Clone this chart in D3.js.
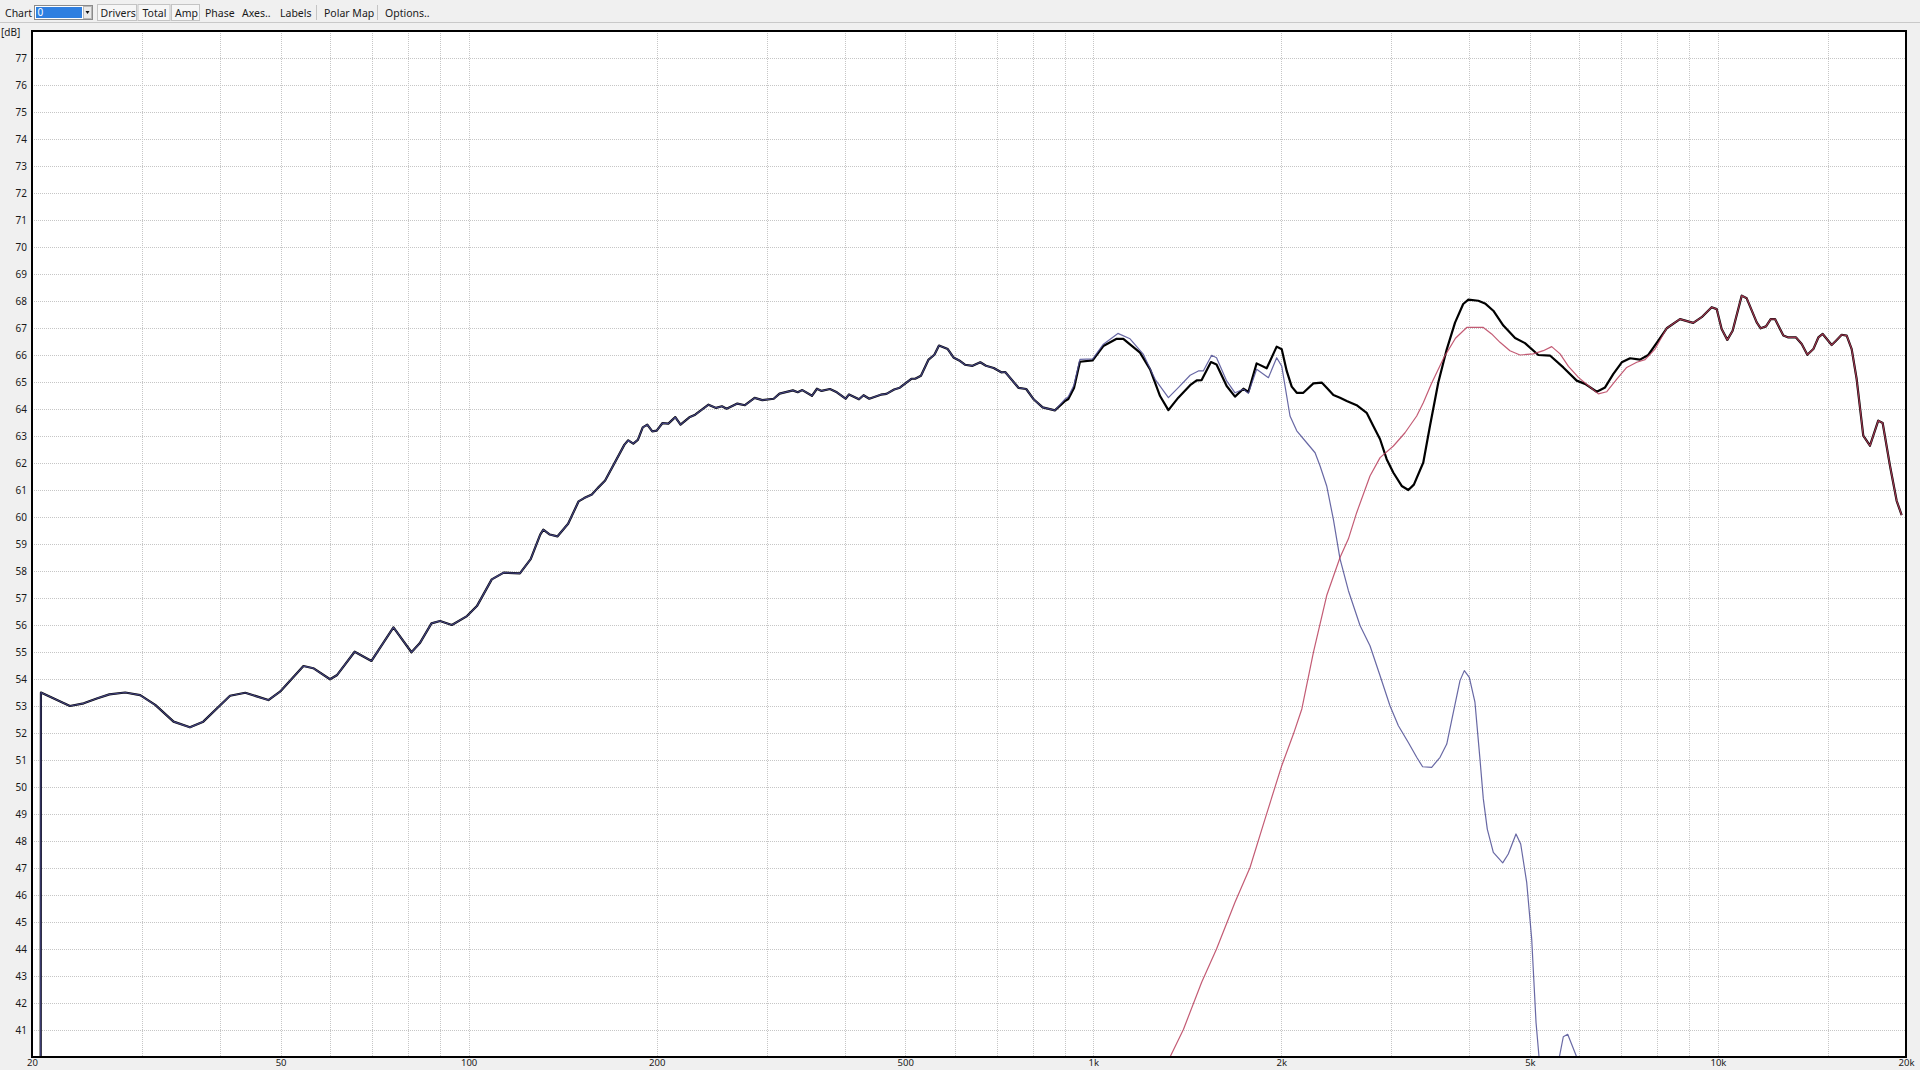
<!DOCTYPE html>
<html>
<head>
<meta charset="utf-8">
<script src="https://cdn.jsdelivr.net/npm/d3@7"></script>
<style>
  html, body { margin: 0; padding: 0; background: #f0f0f0; overflow: hidden; }
  svg { display: block; }
  text { font-family: "Noto Sans", "Liberation Sans", sans-serif; fill: #1a1a1a; }
</style>
</head>
<body>
<svg id="chart" width="1920" height="1070"></svg>
<script>
// ---------------- DATA ----------------
// Axis ticks
const xTickValues = [20, 50, 100, 200, 500, 1000, 2000, 5000, 10000, 20000];
const xTickLabels = ["20", "50", "100", "200", "500", "1k", "2k", "5k", "10k", "20k"];
const xGridValues = [30, 40, 50, 60, 70, 80, 90, 100, 200, 300, 400, 500, 600, 700, 800, 900,
                     1000, 2000, 3000, 4000, 5000, 6000, 7000, 8000, 9000, 10000, 15000];
const yTickValues = [41, 42, 43, 44, 45, 46, 47, 48, 49, 50, 51, 52, 53, 54, 55, 56, 57, 58, 59,
                     60, 61, 62, 63, 64, 65, 66, 67, 68, 69, 70, 71, 72, 73, 74, 75, 76, 77];
const yUnitLabel = "[dB]";
const toolbarItems = ["Drivers", "Total", "Amp", "Phase", "Axes..", "Labels", "Polar Map", "Options.."];

// Shared low-frequency response (woofer and total coincide below ~870 Hz)
const lowFreq = [20.62, 20.67, 23.0, 24.2, 25.4, 26.6, 28.2, 29.8, 31.5, 33.7, 35.8, 37.6, 41.5, 43.9,
  47.8, 49.9, 54.4, 56.4, 60.0, 61.6, 65.7, 69.9, 75.8, 81.0, 83.5, 87.2, 90.0, 94.0, 99.4, 103.1,
  108.9, 113.8, 120.8, 125.7, 130.2, 131.7, 134.9, 138.7, 144.3, 150.0, 153.1, 157.5, 160.9, 165.4,
  177.6, 180.1, 183.5, 186.6, 190.0, 193.2, 196.8, 200.0, 204.4, 208.8, 214.2, 218.4, 225.6, 230.5,
  242.1, 249.0, 254.4, 258.8, 269.3, 276.9, 287.0, 295.2, 307.9, 314.6, 330.4, 336.4, 342.2, 354.5,
  361.1, 367.3, 378.8, 388.6, 401.3, 406.4, 421.6, 428.8, 437.9, 456.9, 466.6, 479.9, 490.1, 511.4,
  518.6, 529.8, 544.9, 556.7, 566.2, 584.8, 597.3, 610.0, 623.1, 640.8, 659.3, 673.3, 692.7, 712.4,
  722.7, 759.4, 780.9, 803.3, 829.8, 868.0];
const lowDb = [20.0, 53.5, 53.0, 53.1, 53.28, 53.43, 53.5, 53.4, 53.04, 52.42, 52.21, 52.42, 53.38, 53.49,
  53.22, 53.53, 54.48, 54.4, 53.99, 54.15, 55.01, 54.67, 55.91, 54.99, 55.32, 56.06, 56.15, 56.0, 56.33, 56.7,
  57.69, 57.94, 57.91, 58.44, 59.35, 59.53, 59.35, 59.28, 59.75, 60.58, 60.70, 60.83, 61.07, 61.35,
  62.68, 62.84, 62.72, 62.86, 63.32, 63.42, 63.17, 63.2, 63.48, 63.46, 63.70, 63.42, 63.69, 63.79,
  64.16, 64.04, 64.10, 64.01, 64.20, 64.14, 64.41, 64.33, 64.38, 64.57, 64.69, 64.62, 64.70, 64.49,
  64.75, 64.67, 64.74, 64.62, 64.38, 64.54, 64.36, 64.51, 64.38, 64.53, 64.56, 64.72, 64.79, 65.12,
  65.12, 65.23, 65.83, 66.01, 66.35, 66.22, 65.91, 65.80, 65.64, 65.60, 65.73, 65.60, 65.52, 65.36,
  65.37, 64.78, 64.74, 64.35, 64.06, 63.95];

// Total (black) above 870 Hz
const totalFreq = [899.4, 912.1, 931.4, 952, 997.7, 1037.6, 1090, 1117, 1188, 1233, 1279, 1319, 1368,
  1429, 1464, 1491, 1543, 1575, 1635, 1686, 1739, 1771, 1826, 1895, 1966, 2003, 2040, 2078, 2117, 2169,
  2251, 2321, 2364, 2423, 2483, 2545, 2640, 2739, 2807, 2878, 2949, 3023, 3117, 3194, 3260, 3375, 3459,
  3567, 3680, 3794, 3910, 3985, 4134, 4237, 4369, 4534, 4734, 4910, 5157, 5384, 5655, 5941, 6127, 6397,
  6596, 6801, 7015, 7233, 7502, 7735, 8026, 8279, 8694, 9130, 9418, 9771, 9953, 10137, 10351, 10556,
  10916, 11118, 11535, 11706, 11938, 12146, 12341, 12725, 12962, 13335, 13617, 13903, 14214, 14478,
  14713, 15208, 15451, 15779, 16072, 16371, 16674, 17085, 17511, 18055, 18352, 18853, 19323, 19682];
const totalDb = [64.28, 64.37, 64.78, 65.75, 65.80, 66.33, 66.60, 66.60, 66.09, 65.47, 64.48, 63.96, 64.42,
  64.88, 65.06, 65.07, 65.74, 65.65, 64.85, 64.46, 64.75, 64.63, 65.69, 65.51, 66.31, 66.21, 65.41, 64.83, 64.60, 64.60,
  64.95, 64.98, 64.79, 64.52, 64.42, 64.30, 64.14, 63.86, 63.37, 62.88, 62.14, 61.64, 61.15, 61.0, 61.2, 62.02, 63.37,
  64.98, 66.21, 67.20, 67.89, 68.05, 68.01, 67.91, 67.64, 67.09, 66.63, 66.44, 66.0, 65.98, 65.54, 65.05, 64.93, 64.64,
  64.80, 65.30, 65.73, 65.88, 65.83, 66.0, 66.53, 66.99, 67.33, 67.19, 67.40, 67.77, 67.70, 66.96, 66.56, 66.90,
  68.20, 68.10, 67.21, 66.99, 67.06, 67.33, 67.33, 66.72, 66.65, 66.65, 66.41, 66.01, 66.22, 66.65,
  66.78, 66.37, 66.53, 66.75, 66.72, 66.22, 65.11, 63.01, 62.64, 63.57, 63.48, 61.90, 60.60, 60.07];

// Woofer (blue) above 870 Hz
const wooferFreq = [899.4, 912, 931, 952, 998, 1038, 1095, 1145, 1203, 1256, 1319, 1368, 1429, 1473, 1500,
  1547, 1575, 1635, 1686, 1739, 1771, 1826, 1907, 1966, 2003, 2065, 2117, 2196, 2265, 2307, 2364, 2423,
  2483, 2561, 2673, 2773, 2878, 2985, 3079, 3194, 3294, 3367, 3481, 3590, 3680, 3771, 3864, 3926, 3999,
  4083, 4159, 4211, 4273, 4369, 4523, 4617, 4750, 4833, 4941, 5033, 5114, 5171, 5300, 5450, 5573, 5655,
  5747, 5941, 6100];
const wooferDb = [64.35, 64.45, 64.88, 65.84, 65.86, 66.40, 66.80, 66.60, 66.02, 65.10, 64.42, 64.79, 65.25, 65.41, 65.41,
  65.99, 65.90, 65.04, 64.60, 64.73, 64.58, 65.47, 65.16, 65.90, 65.59, 63.74, 63.19, 62.75, 62.38, 61.89, 61.15, 59.91,
  58.45, 57.27, 55.98, 55.23, 54.12, 53.01, 52.27, 51.65, 51.10, 50.75, 50.73, 51.10, 51.59, 52.77, 53.94, 54.31, 54.06,
  53.14, 51.04, 49.56, 48.44, 47.58, 47.19, 47.52, 48.26, 47.89, 46.47, 44.37, 41.28, 40.0, 37.5, 37.5, 40.0, 40.75,
  40.84, 40.0, 39.0];

// Tweeter (red)
const tweeterFreq = [1327, 1394, 1491, 1575, 1686, 1782, 1883, 2003, 2091, 2157, 2251, 2364, 2483, 2561, 2640,
  2773, 2878, 3023, 3155, 3294, 3375, 3480, 3650, 3800, 3961, 4211, 4342, 4478, 4645, 4820, 5063, 5253, 5418,
  5588, 5763, 5979, 6203, 6435, 6638, 6887, 7144, 7413, 7644, 7930, 8279, 8694, 9130, 9418, 9771, 9953,
  10137, 10351, 10556, 10916, 11118, 11535, 11706, 11938, 12146, 12341, 12725, 12962, 13335, 13617, 13903,
  14214, 14478, 14713, 15208, 15451, 15779, 16072, 16371, 16674, 17085, 17511, 18055, 18352, 18853, 19323, 19682];
const tweeterDb = [40.0, 41.02, 42.77, 44.0, 45.73, 47.02, 48.81, 50.79, 51.96, 52.89, 54.99, 57.09, 58.5, 59.19, 60.16,
  61.52, 62.20, 62.63, 63.12, 63.74, 64.23, 64.95, 65.95, 66.62, 67.02, 67.02, 66.78, 66.47, 66.16, 66.0, 66.04, 66.16, 66.31,
  66.04, 65.58, 65.17, 64.86, 64.56, 64.64, 65.11, 65.54, 65.73, 65.83, 66.22, 66.99, 67.33, 67.19, 67.40, 67.77, 67.70,
  66.96, 66.56, 66.90, 68.20, 68.10, 67.21, 66.99, 67.06, 67.33, 67.33, 66.72, 66.65, 66.65, 66.41, 66.01,
  66.22, 66.65, 66.78, 66.37, 66.53, 66.75, 66.72, 66.22, 65.11, 63.01, 62.64, 63.57, 63.48, 61.90, 60.60, 60.07];

// ---------------- CHART ----------------
const svg = d3.select("#chart");
const W = 1920, H = 1070;
const plot = { left: 32, top: 31, right: 1906, bottom: 1057 };

const x = d3.scaleLog().domain([20, 20000]).range([plot.left, plot.right]);
const y = d3.scaleLinear().domain([40, 78]).range([plot.bottom, plot.top]);

svg.append("rect").attr("width", W).attr("height", H).attr("fill", "#f0f0f0");

// ---- Toolbar ----
const tb = svg.append("g").attr("class", "toolbar");
tb.append("line").attr("x1", 0).attr("x2", W).attr("y1", 22.5).attr("y2", 22.5)
  .attr("stroke", "#c9c9c9").attr("stroke-width", 1);
tb.append("text").attr("x", 5).attr("y", 16.5).attr("font-size", 10.5).text("Chart");
// combobox
tb.append("rect").attr("x", 34.5).attr("y", 5.5).attr("width", 58).attr("height", 14)
  .attr("fill", "#ffffff").attr("stroke", "#8a8a8a");
tb.append("rect").attr("x", 36).attr("y", 7).attr("width", 46).attr("height", 11).attr("fill", "#2f7fe0");
tb.append("text").attr("x", 37.5).attr("y", 16).attr("font-size", 10).attr("fill", "#ffffff")
  .style("fill", "#ffffff").text("0");
tb.append("rect").attr("x", 83.5).attr("y", 6.5).attr("width", 8).attr("height", 12)
  .attr("fill", "#e9e9e9").attr("stroke", "#b8b8b8");
tb.append("path").attr("d", "M85.5,11 L89.5,11 L87.5,14 Z").attr("fill", "#111");

const itemX = [100.5, 142.5, 175, 205, 242, 280, 324, 385];
const boxes = [[97, 136], [137.5, 169.5], [171, 199]];
boxes.forEach(b => {
  tb.append("rect").attr("x", b[0] + 0.5).attr("y", 4.5).attr("width", b[1] - b[0]).attr("height", 16)
    .attr("fill", "#f6f6f6").attr("stroke", "#c4c4c4");
});
toolbarItems.forEach((t, i) => {
  tb.append("text").attr("x", itemX[i]).attr("y", 16.5).attr("font-size", 10.5).text(t);
});
[316.5, 377.5].forEach(sx => {
  tb.append("line").attr("x1", sx).attr("x2", sx).attr("y1", 5).attr("y2", 20)
    .attr("stroke", "#c4c4c4");
});

// ---- Plot area ----
svg.append("rect").attr("x", plot.left).attr("y", plot.top)
  .attr("width", plot.right - plot.left).attr("height", plot.bottom - plot.top)
  .attr("fill", "#ffffff");

// grid
const grid = svg.append("g").attr("class", "grid");
grid.selectAll("line.v").data(xGridValues).join("line").attr("class", "v")
  .attr("x1", d => Math.round(x(d)) + 0.5).attr("x2", d => Math.round(x(d)) + 0.5)
  .attr("y1", plot.top).attr("y2", plot.bottom)
  .attr("stroke", "#c6c6c6").attr("stroke-width", 1).attr("stroke-dasharray", "1,1");
grid.selectAll("line.h").data(yTickValues).join("line").attr("class", "h")
  .attr("x1", plot.left).attr("x2", plot.right)
  .attr("y1", d => Math.round(y(d)) + 0.5).attr("y2", d => Math.round(y(d)) + 0.5)
  .attr("stroke", "#c6c6c6").attr("stroke-width", 1).attr("stroke-dasharray", "1,1");

// axes (labels only)
const xAxis = d3.axisBottom(x).tickValues(xTickValues)
  .tickFormat((d, i) => xTickLabels[i]).tickSize(0).tickPadding(0);
const gx = svg.append("g").attr("transform", `translate(0,${plot.bottom + 9})`).call(xAxis);
gx.select(".domain").remove();
gx.selectAll("text").attr("font-size", 9.5).attr("dy", 0).style("font-family", "'Noto Sans', sans-serif")
  .attr("fill", "#1a1a1a");

const yAxis = d3.axisLeft(y).tickValues(yTickValues).tickFormat(d3.format("d")).tickSize(0).tickPadding(0);
const gy = svg.append("g").attr("transform", `translate(${plot.left - 5},0)`).call(yAxis);
gy.select(".domain").remove();
gy.selectAll("text").attr("font-size", 10).style("font-family", "'Noto Sans', sans-serif")
  .attr("fill", "#1a1a1a");

svg.append("text").attr("x", 1).attr("y", 36).attr("font-size", 10).text(yUnitLabel);

// clip
svg.append("clipPath").attr("id", "plotclip").append("rect")
  .attr("x", plot.left).attr("y", plot.top)
  .attr("width", plot.right - plot.left).attr("height", plot.bottom - plot.top);

const line = d3.line().x(d => x(d[0])).y(d => y(d[1])).curve(d3.curveLinear);
const zip = (f, v) => f.map((d, i) => [d, v[i]]);

const totalData = zip(lowFreq, lowDb).concat(zip(totalFreq, totalDb));
const wooferData = zip(lowFreq, lowDb).concat(zip(wooferFreq, wooferDb));
const tweeterData = zip(tweeterFreq, tweeterDb);

const curves = svg.append("g").attr("clip-path", "url(#plotclip)");
curves.append("path").datum(totalData).attr("d", line)
  .attr("fill", "none").attr("stroke", "#000000").attr("stroke-width", 2.2)
  .attr("stroke-linejoin", "round");
curves.append("path").datum(wooferData).attr("d", line)
  .attr("fill", "none").attr("stroke", "#4e4e94").attr("stroke-width", 1.2)
  .attr("stroke-opacity", 0.85).attr("stroke-linejoin", "round");
curves.append("path").datum(tweeterData).attr("d", line)
  .attr("fill", "none").attr("stroke", "#b83e5c").attr("stroke-width", 1.2)
  .attr("stroke-opacity", 0.85).attr("stroke-linejoin", "round");

// frame
svg.append("rect").attr("x", plot.left).attr("y", plot.top)
  .attr("width", plot.right - plot.left).attr("height", plot.bottom - plot.top)
  .attr("fill", "none").attr("stroke", "#000").attr("stroke-width", 2);
</script>
</body>
</html>
